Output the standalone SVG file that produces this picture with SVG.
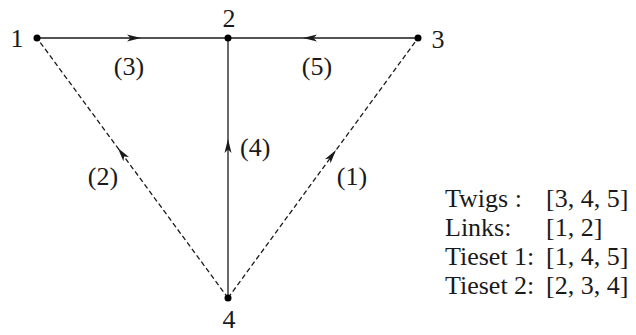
<svg xmlns="http://www.w3.org/2000/svg" width="636" height="335" viewBox="0 0 636 335">
<style>
text{font-family:"Liberation Serif","DejaVu Serif",serif;font-size:26px;fill:#1a1a1a}
.e{stroke:#1a1a1a;stroke-width:1.3;fill:none}
.d{stroke-dasharray:5,3}
.a{stroke:none;fill:none}
.n{fill:#000}
</style>
<defs>
<marker id="ar" markerWidth="15" markerHeight="9" refX="14" refY="4.5" orient="auto" markerUnits="userSpaceOnUse">
<path d="M0,1 L14,4.5 L0,8 L3.5,4.5 Z" fill="#1a1a1a"/>
</marker>
</defs>
<g id="connectors">
<line class="e" x1="37" y1="38" x2="418" y2="38"/>
<path class="a" d="M120,38 L141,38" marker-end="url(#ar)"/>
<path class="a" d="M330,38 L303,38" marker-end="url(#ar)"/>
<line class="e" x1="228" y1="298" x2="228" y2="38"/>
<path class="a" d="M228,160 L228,139" marker-end="url(#ar)"/>
<line class="e d" x1="228" y1="298" x2="37" y2="38"/>
<path class="a" d="M130,164.3 L117.8,148" marker-end="url(#ar)"/>
<line class="e d" x1="228" y1="298" x2="418" y2="38"/>
<path class="a" d="M325,165 L336,150" marker-end="url(#ar)"/>
<text x="129" y="75" text-anchor="middle">(3)</text>
<text x="317" y="75" text-anchor="middle">(5)</text>
<text x="240" y="156">(4)</text>
<text x="103" y="185" text-anchor="middle">(2)</text>
<text x="352" y="185" text-anchor="middle">(1)</text>
</g>
<g id="node1"><circle class="n" cx="37" cy="38" r="3.5"/><text x="17" y="47" text-anchor="middle">1</text></g>
<g id="node2"><circle class="n" cx="228" cy="38" r="3.5"/><text x="229" y="27" text-anchor="middle">2</text></g>
<g id="node3"><circle class="n" cx="418" cy="38" r="3.5"/><text x="438" y="48" text-anchor="middle">3</text></g>
<g id="node4"><circle class="n" cx="228" cy="298" r="3.5"/><text x="229" y="328" text-anchor="middle">4</text></g>
<g id="legend">
<text x="445" y="207">Twigs :</text><text x="546" y="207">[3, 4, 5]</text>
<text x="445" y="236">Links:</text><text x="546" y="236">[1, 2]</text>
<text x="445" y="265">Tieset 1:</text><text x="546" y="265">[1, 4, 5]</text>
<text x="445" y="294">Tieset 2:</text><text x="546" y="294">[2, 3, 4]</text>
</g>
</svg>
